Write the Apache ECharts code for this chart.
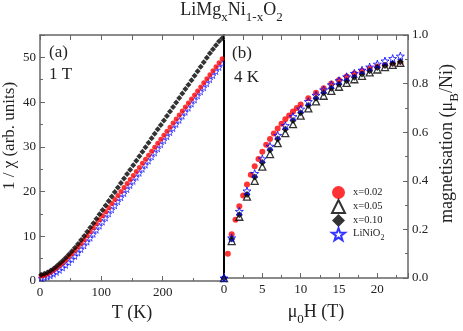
<!DOCTYPE html>
<html>
<head>
<meta charset="utf-8">
<script src="https://cdn.jsdelivr.net/npm/echarts@6/dist/echarts.min.js"></script>
<style>
  html, body { margin: 0; padding: 0; background: #fff; }
  #chart { width: 463px; height: 331px; }
</style>
</head>
<body>
<div id="chart"></div>
<script>
// panel (a): 1/chi vs T at 1 T
const tempsK = [2, 7, 12, 17, 22, 27, 32, 37, 42, 47, 52, 57, 62, 67, 72, 77, 82, 87, 92, 97,
  102, 107, 112, 117, 122, 127, 132, 137, 142, 147, 152, 157, 162, 167, 172, 177, 182, 187, 192, 197,
  202, 207, 212, 217, 222, 227, 232, 237, 242, 247, 252, 257, 262, 267, 272, 277, 282, 287, 292, 297];
const invChiX002 = [1.1, 1.25, 1.55, 1.95, 2.4, 2.9, 3.45, 4.05, 4.7, 5.4,
  6.1, 6.8, 7.6, 8.4, 9.25, 10.1, 11.0, 11.9, 12.8, 13.7,
  14.6, 15.5, 16.4, 17.3, 18.2, 19.1, 20.0, 20.9, 21.8, 22.7,
  23.6, 24.5, 25.4, 26.3, 27.2, 28.1, 29.0, 29.9, 30.8, 31.7,
  32.6, 33.5, 34.4, 35.3, 36.2, 37.1, 38.0, 38.9, 39.8, 40.7,
  41.6, 42.5, 43.4, 44.3, 45.2, 46.1, 47.0, 47.9, 48.8, 49.7];
const invChiX010 = [1.4, 1.6, 1.9, 2.3, 2.75, 3.3, 3.9, 4.55, 5.2, 5.9,
  6.65, 7.45, 8.3, 9.15, 10.05, 11.0, 11.95, 12.9, 13.9, 14.9,
  15.9, 16.9, 17.9, 18.9, 19.9, 20.9, 21.9, 22.9, 23.9, 24.9,
  25.9, 26.9, 27.9, 28.9, 29.9, 30.9, 31.9, 32.9, 33.9, 34.9,
  35.9, 36.9, 37.9, 38.9, 39.9, 40.9, 41.9, 42.9, 43.9, 44.9,
  45.9, 46.9, 47.9, 48.9, 49.9, 50.9, 51.8, 52.7, 53.6, 54.3];
const invChiLiNiO2 = [0.6, 0.72, 0.88, 1.14, 1.5, 1.91, 2.37, 2.91, 3.49, 4.12,
  4.79, 5.5, 6.25, 7.04, 7.85, 8.69, 9.56, 10.43, 11.34, 12.25,
  13.16, 14.07, 14.98, 15.89, 16.8, 17.71, 18.62, 19.53, 20.44, 21.35,
  22.26, 23.17, 24.08, 24.99, 25.9, 26.81, 27.72, 28.63, 29.54, 30.45,
  31.36, 32.27, 33.18, 34.09, 35.0, 35.91, 36.82, 37.73, 38.64, 39.55,
  40.46, 41.37, 42.28, 43.19, 44.1, 45.01, 45.92, 46.83, 47.74, 48.65];

// panel (b): magnetisation vs field at 4 K
const fieldFine = [0.5, 1, 1.5, 2, 2.5, 3, 3.5, 4, 4.5, 5, 5.5, 6, 6.5, 7, 7.5, 8, 8.5, 9, 9.5, 10,
  11, 12, 13, 14, 15, 16, 17, 18, 19, 20, 21, 22, 23];
const magX002 = [0.10, 0.18, 0.24, 0.295, 0.34, 0.385, 0.425, 0.46, 0.49, 0.52, 0.548, 0.572, 0.595, 0.615, 0.635, 0.653, 0.669, 0.685, 0.70, 0.714,
  0.74, 0.762, 0.781, 0.80, 0.815, 0.829, 0.842, 0.852, 0.862, 0.87, 0.876, 0.88, 0.884];
const fieldT = [0, 1, 2, 3, 4, 5, 6, 7, 8, 9, 10, 11, 12, 13, 14, 15, 16, 17, 18, 19, 20, 21, 22, 23];
const magX005 = [0, 0.152, 0.252, 0.335, 0.40, 0.458, 0.51, 0.555, 0.596, 0.633, 0.668, 0.698, 0.727, 0.75, 0.77, 0.787, 0.803, 0.818, 0.832, 0.846, 0.858, 0.868, 0.877, 0.885];
const magX010 = [0, 0.16, 0.26, 0.344, 0.416, 0.475, 0.527, 0.572, 0.612, 0.648, 0.68, 0.71, 0.74, 0.762, 0.781, 0.797, 0.812, 0.826, 0.84, 0.853, 0.866, 0.875, 0.883, 0.89];
const magLiNiO2 = [0, 0.165, 0.274, 0.358, 0.43, 0.49, 0.542, 0.587, 0.627, 0.664, 0.695, 0.726, 0.752, 0.774, 0.795, 0.812, 0.828, 0.842, 0.855, 0.868, 0.88, 0.893, 0.903, 0.913];

const legendNames = ["x=0.02", "x=0.05", "x=0.10", "LiNiO2"];

const zip = (xs, ys) => xs.map((x, i) => [x, ys[i]]);
const FONT = "Liberation Serif";
const STAR = "path://M50,0L61.8,33.8L97.6,34.5L69,56.2L79.4,90.5L50,70L20.6,90.5L31,56.2L2.4,34.5L38.2,33.8Z";
const axisGray = "#666";

const chart = echarts.init(document.getElementById("chart"));

const frameLine = { onZero: false, lineStyle: { color: axisGray, width: 1.5 } };
const tick = { inside: true, length: 5, lineStyle: { color: axisGray } };
const minor = { show: true, splitNumber: 2, length: 3, lineStyle: { color: axisGray } };
const tickLabel = { fontFamily: FONT, fontSize: 13, color: "#222" };
const nameStyle = { fontFamily: FONT, fontSize: 17, color: "#222" };
const subRich = {
  m: { fontFamily: FONT, fontSize: 18, fontWeight: "normal", lineHeight: 20, verticalAlign: "top", color: "#222" },
  s: { fontFamily: FONT, fontSize: 13, fontWeight: "normal", lineHeight: 14, verticalAlign: "top", padding: [10, 0, 0, 0], color: "#222" },
};

let option = {
  animation: false,
  title: {
    text: "{m|LiMg}{s|x}{m|Ni}{s|1-x}{m|O}{s|2}",
    left: "center",
    top: 1,
    padding: 0,
    textStyle: { fontWeight: "normal", rich: subRich },
  },
  grid: [
    { left: 40, top: 35, width: 184, height: 246 },
    { left: 224, top: 35, width: 184, height: 246 },
  ],
  xAxis: [
    {
      gridIndex: 0, type: "value", min: 0, max: 300, interval: 100,
      axisLine: frameLine, axisTick: tick, minorTick: minor, splitLine: { show: false },
      axisLabel: Object.assign({ margin: 5, showMaxLabel: false }, tickLabel),
      name: "T (K)", nameLocation: "middle", nameGap: 22, nameTextStyle: { fontFamily: FONT, fontSize: 18, color: "#222" },
    },
    {
      gridIndex: 0, type: "value", position: "top", min: 0, max: 300, interval: 50,
      axisLine: frameLine, axisTick: tick, axisLabel: { show: false }, splitLine: { show: false },
    },
    {
      gridIndex: 1, type: "value", min: 0, max: 24, interval: 5,
      axisLine: frameLine, axisTick: tick, minorTick: minor, splitLine: { show: false },
      axisLabel: Object.assign({ margin: 5, showMaxLabel: false }, tickLabel),
      name: "{m|μ}{s|0}{m|H (T)}", nameLocation: "middle", nameGap: 25,
      nameTextStyle: { rich: subRich },
    },
    {
      gridIndex: 1, type: "value", position: "top", min: 0, max: 24, interval: 2.5,
      axisLine: frameLine, axisTick: tick, axisLabel: { show: false }, splitLine: { show: false },
    },
  ],
  yAxis: [
    {
      gridIndex: 0, type: "value", min: 0, max: 55, interval: 10,
      axisLine: frameLine, axisTick: tick, minorTick: minor, splitLine: { show: false },
      axisLabel: Object.assign({ margin: 4, showMaxLabel: false }, tickLabel),
      name: "1 / χ (arb. units)", nameLocation: "middle", nameGap: 22, nameRotate: 90,
      nameTextStyle: Object.assign({ padding: [0, 0, 0, 44] }, nameStyle),
    },
    {
      gridIndex: 1, type: "value", position: "right", min: 0, max: 1, interval: 0.2,
      axisLine: frameLine, axisTick: tick, minorTick: minor, splitLine: { show: false },
      axisLabel: Object.assign({ margin: 4, formatter: (v) => v.toFixed(1) }, tickLabel),
      name: "{m|magnetisation (μ}{s|B}{m|/Ni)}", nameLocation: "middle", nameGap: 30, nameRotate: 90,
      nameTextStyle: { rich: subRich, padding: [0, 0, 0, 26] },
    },
    {
      gridIndex: 1, type: "value", position: "left", min: 0, max: 1,
      axisLine: { onZero: false, lineStyle: { color: "#000", width: 2 } },
      axisTick: { show: false }, axisLabel: { show: false }, splitLine: { show: false },
    },
  ],
  legend: {
    data: legendNames,
    orient: "vertical",
    left: 326,
    top: 181,
    itemWidth: 13,
    itemHeight: 13,
    itemGap: 0,
    selectedMode: false,
    formatter: (n) => (n === "LiNiO2" ? "{n|LiNiO}{t|2}" : n),
    textStyle: {
      fontFamily: FONT, fontSize: 10.5, color: "#222", padding: [0, 0, 0, 3],
      rich: {
        n: { fontFamily: FONT, fontSize: 10.5, color: "#222", verticalAlign: "top", lineHeight: 12 },
        t: { fontFamily: FONT, fontSize: 8, color: "#222", verticalAlign: "top", lineHeight: 9, padding: [6, 0, 0, 0] },
      },
    },
  },
  graphic: [
    { type: "text", left: 49, top: 44, style: { text: "(a)", font: '17px "Liberation Serif"', fill: "#222" } },
    { type: "text", left: 49, top: 66, style: { text: "1 T", font: '17px "Liberation Serif"', fill: "#222" } },
    { type: "text", left: 232, top: 45, style: { text: "(b)", font: '17px "Liberation Serif"', fill: "#222" } },
    { type: "text", left: 234, top: 69, style: { text: "4 K", font: '17px "Liberation Serif"', fill: "#222" } },
  ],
  series: [
    {
      name: "LiNiO2 (a)", type: "scatter", xAxisIndex: 0, yAxisIndex: 0,
      symbol: STAR, symbolSize: 6,
      itemStyle: { color: "rgba(255,255,255,0)", borderColor: "#0000ff", borderWidth: 0.8 },
      data: zip(tempsK, invChiLiNiO2),
    },
    {
      name: "x=0.02 (a)", type: "scatter", xAxisIndex: 0, yAxisIndex: 0,
      symbol: "circle", symbolSize: 5, itemStyle: { color: "#ff0000" },
      data: zip(tempsK, invChiX002),
    },
    {
      name: "x=0.10 (a)", type: "scatter", xAxisIndex: 0, yAxisIndex: 0,
      symbol: "diamond", symbolSize: 6, itemStyle: { color: "#000" },
      data: zip(tempsK, invChiX010),
    },
    {
      name: "x=0.02", type: "scatter", xAxisIndex: 2, yAxisIndex: 1,
      symbol: "circle", symbolSize: 6, itemStyle: { color: "#ff0000" },
      data: zip(fieldFine, magX002),
    },
    {
      name: "x=0.05", type: "scatter", xAxisIndex: 2, yAxisIndex: 1,
      symbol: "triangle", symbolSize: 7,
      itemStyle: { color: "#fff", borderColor: "#000", borderWidth: 1.3 },
      data: zip(fieldT, magX005),
    },
    {
      name: "x=0.10", type: "scatter", xAxisIndex: 2, yAxisIndex: 1,
      symbol: "diamond", symbolSize: 7, itemStyle: { color: "#000" },
      data: zip(fieldT, magX010),
    },
    {
      name: "LiNiO2", type: "scatter", xAxisIndex: 2, yAxisIndex: 1,
      symbol: STAR, symbolSize: 8,
      itemStyle: { color: "rgba(255,255,255,0)", borderColor: "#0000ff", borderWidth: 1 },
      data: zip(fieldT, magLiNiO2),
    },
  ],
};
chart.setOption(option);
</script>
</body>
</html>
